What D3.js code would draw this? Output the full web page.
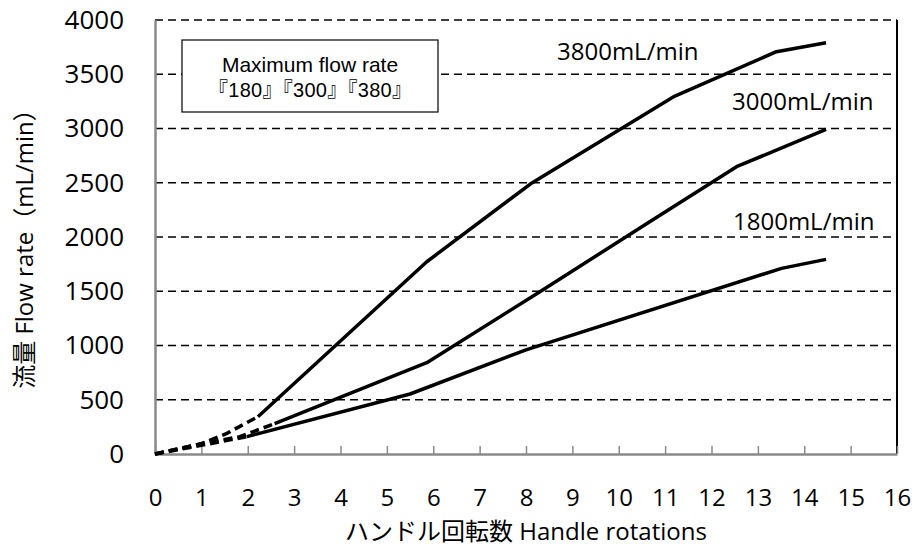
<!DOCTYPE html>
<html>
<head>
<meta charset="utf-8">
<script src="https://cdn.jsdelivr.net/npm/d3@7"></script>
<style>
  body { margin: 0; background: #fff; }
  svg { display: block; }
  text { font-family: "Open Sans", "Noto Sans CJK JP", sans-serif; fill: #000; }
</style>
</head>
<body>
<div id="chart"></div>
<script>
// Data: handle rotations vs flow rate (mL/min)
const xTicks = [0, 1, 2, 3, 4, 5, 6, 7, 8, 9, 10, 11, 12, 13, 14, 15, 16];
const yTicks = [0, 500, 1000, 1500, 2000, 2500, 3000, 3500, 4000];

// dashed start of each curve, then the solid part
const start380 = [[0, 0], [1, 95], [1.55, 190], [2.22, 344]];
const curve380 = [[2.22, 344], [5.86, 1772], [8.1, 2490], [11.21, 3299], [13.4, 3708], [14.47, 3791]];
const start300 = [[0, 0], [1, 95], [1.83, 160], [2.58, 280]];
const curve300 = [[2.58, 280], [5.86, 842], [8.3, 1496], [10.6, 2122], [12.54, 2648], [14.47, 2992]];
const start180 = [[0, 0], [1, 80], [1.98, 160]];
const curve180 = [[1.98, 160], [5.5, 553], [8.0, 960], [13.51, 1711], [14.47, 1794]];

const curveLabels = ['3800mL/min', '3000mL/min', '1800mL/min'];
const legendLines = ['Maximum flow rate', '『180』『300』『380』'];

const width = 917, height = 548;
const plot = { left: 155, right: 897, top: 20, bottom: 454 };

const svg = d3.select('#chart')
    .append('svg')
    .attr('width', width)
    .attr('height', height);

// Scales
const xScale = d3.scaleLinear().domain([0, 16]).range([plot.left, plot.right]);
const yScale = d3.scaleLinear().domain([0, 4000]).range([plot.bottom, plot.top]);

// Dashed gridlines
svg.append('g')
    .selectAll('line')
    .data(yTicks.filter(d => d > 0))
    .enter()
    .append('line')
    .attr('x1', plot.left)
    .attr('x2', plot.right)
    .attr('y1', d => yScale(d))
    .attr('y2', d => yScale(d))
    .attr('stroke', '#000')
    .attr('stroke-width', 1.6)
    .attr('stroke-dasharray', '8,5');

// Right border
svg.append('line')
    .attr('x1', plot.right).attr('x2', plot.right)
    .attr('y1', plot.top).attr('y2', plot.bottom)
    .attr('stroke', '#000')
    .attr('stroke-width', 2);

// Axes
const yAxis = d3.axisLeft(yScale)
    .tickValues(yTicks)
    .tickFormat(d3.format('d'))
    .tickSize(0)
    .tickPadding(31);

const yG = svg.append('g')
    .attr('transform', `translate(${plot.left}, 0)`)
    .call(yAxis);
yG.select('.domain').attr('stroke', '#8a8a8a').attr('stroke-width', 2.5);
yG.selectAll('text').attr('font-size', 26).attr('font-family', null);

const xAxis = d3.axisBottom(xScale)
    .tickValues(xTicks)
    .tickSizeInner(-8)
    .tickSizeOuter(0);

const xG = svg.append('g')
    .attr('transform', `translate(0, ${plot.bottom})`)
    .call(xAxis);
xG.select('.domain').attr('stroke', '#8a8a8a').attr('stroke-width', 2.5);
xG.selectAll('.tick line').attr('stroke', '#8a8a8a').attr('stroke-width', 1.5);
xG.selectAll('text')
    .attr('font-size', 24)
    .attr('font-family', null)
    .attr('y', 52)
    .attr('dy', 0);

// Curves
const line = d3.line()
    .x(d => xScale(d[0]))
    .y(d => yScale(d[1]));

[start380, start300, start180].forEach(pts => {
    svg.append('path')
        .datum(pts)
        .attr('d', line)
        .attr('fill', 'none')
        .attr('stroke', '#000')
        .attr('stroke-width', 3.5)
        .attr('stroke-dasharray', '9,5');
});

[curve380, curve300, curve180].forEach(pts => {
    svg.append('path')
        .datum(pts)
        .attr('d', line)
        .attr('fill', 'none')
        .attr('stroke', '#000')
        .attr('stroke-width', 3.5)
        .attr('stroke-linejoin', 'round');
});

// Curve labels
const labelPos = [[557, 60], [732, 110], [733, 230]];
svg.selectAll('.curve-label')
    .data(curveLabels)
    .enter()
    .append('text')
    .attr('class', 'curve-label')
    .attr('x', (d, i) => labelPos[i][0])
    .attr('y', (d, i) => labelPos[i][1])
    .attr('font-size', 24)
    .text(d => d);

// Legend box
svg.append('rect')
    .attr('x', 182)
    .attr('y', 40)
    .attr('width', 256)
    .attr('height', 72)
    .attr('fill', '#fff')
    .attr('stroke', '#000')
    .attr('stroke-width', 1.2);

svg.append('text')
    .attr('x', 310)
    .attr('y', 72)
    .attr('text-anchor', 'middle')
    .attr('font-size', 21)
    .style('font-family', '"Liberation Sans", Arial, sans-serif')
    .text(legendLines[0]);

svg.append('text')
    .attr('x', 310)
    .attr('y', 97)
    .attr('text-anchor', 'middle')
    .attr('font-size', 20)
    .attr('textLength', 204)
    .attr('lengthAdjust', 'spacing')
    .style('font-family', '"Liberation Sans", "Noto Sans CJK JP", sans-serif')
    .text(legendLines[1]);

// Axis titles
svg.append('text')
    .attr('transform', 'translate(33, 243) rotate(-90)')
    .attr('text-anchor', 'middle')
    .attr('font-size', 24)
    .text('流量 Flow rate（mL/min）');

svg.append('text')
    .attr('x', (plot.left + plot.right) / 2)
    .attr('y', 540)
    .attr('text-anchor', 'middle')
    .attr('font-size', 24)
    .text('ハンドル回転数  Handle rotations');
</script>
</body>
</html>
